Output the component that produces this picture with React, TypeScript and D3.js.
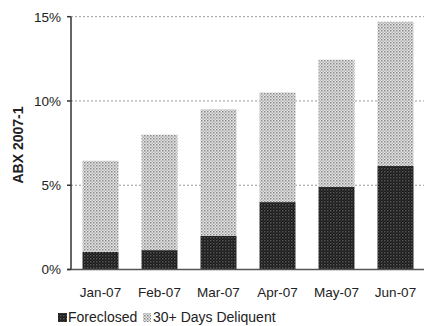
import React from "react";
import * as d3 from "d3";

const months = ["Jan-07", "Feb-07", "Mar-07", "Apr-07", "May-07", "Jun-07"];
const foreclosed = [1.05, 1.15, 2.0, 4.0, 4.9, 6.15];
const delinquent = [5.4, 6.85, 7.5, 6.5, 7.55, 8.55];
const yTicks = [0, 5, 10, 15];
const seriesNames = ["Foreclosed", "30+ Days Deliquent"];

const W = 424;
const H = 326;
const left = 71;
const right = 425;
const top = 16.7;
const bottom = 269.5;

export default function App() {
  const x = d3.scaleBand<string>().domain(months).range([left, right]).paddingInner(0.39).paddingOuter(0.195);
  const y = d3.scaleLinear().domain([0, 15]).range([bottom, top]);

  const rows = months.map((m, i) => ({ month: m, foreclosed: foreclosed[i], delinquent: delinquent[i] }));
  const stack = d3.stack<any>().keys(["foreclosed", "delinquent"])(rows);
  const fills = ["url(#darkPat)", "url(#lightPat)"];
  const font = "Arial, 'Liberation Sans', sans-serif";

  return (
    <svg width={W} height={H} style={{ position: "absolute", left: 0, top: 0, background: "#fff" }}>
      <defs>
        <pattern id="lightPat" width="3" height="3" patternUnits="userSpaceOnUse">
          <rect width="3" height="3" fill="#e6e6e6" />
          <rect x="0" y="0" width="1.5" height="1.5" fill="#888" />
          <rect x="1.5" y="1.5" width="1.5" height="1.5" fill="#b4b4b4" />
        </pattern>
        <pattern id="darkPat" width="3" height="3" patternUnits="userSpaceOnUse">
          <rect width="3" height="3" fill="#1a1a1a" />
          <rect x="0" y="0" width="1.5" height="1.5" fill="#555" />
          <rect x="1.5" y="1.5" width="1.5" height="1.5" fill="#2e2e2e" />
        </pattern>
      </defs>

      {yTicks.filter((t) => t > 0).map((t) => (
        <line key={t} x1={left} x2={W} y1={y(t)} y2={y(t)} stroke="#999" strokeWidth={1} strokeDasharray="2,2" />
      ))}

      {stack.map((layer, li) =>
        layer.map((d, i) => (
          <rect
            key={`${li}-${i}`}
            x={x(months[i])}
            width={x.bandwidth()}
            y={y(d[1])}
            height={y(d[0]) - y(d[1])}
            fill={fills[li]}
          />
        ))
      )}

      <line x1={left} x2={left} y1={top} y2={bottom} stroke="#333" strokeWidth={1.5} />
      <line x1={left - 4} x2={W} y1={bottom} y2={bottom} stroke="#555" strokeWidth={1.5} />
      {yTicks.map((t) => (
        <g key={t}>
          <line x1={left - 4} x2={left} y1={y(t)} y2={y(t)} stroke="#333" strokeWidth={1.5} />
          <text x={61} y={y(t)} dy="0.36em" textAnchor="end" fontFamily={font} fontSize={13.5} fill="#222">
            {t}%
          </text>
        </g>
      ))}

      {months.map((m) => (
        <text key={m} x={(x(m) as number) + x.bandwidth() / 2} y={297} textAnchor="middle" fontFamily={font} fontSize={13.5} fill="#222">
          {m}
        </text>
      ))}

      <text
        transform="translate(23,145) rotate(-90)"
        textAnchor="middle"
        fontFamily={font}
        fontSize={14}
        fontWeight="bold"
        fill="#222"
      >
        ABX 2007-1
      </text>

      <g fontFamily={font} fontSize={14} fill="#222">
        <rect x={58} y={313} width={9} height={9} fill={fills[0]} />
        <text x={68} y={322}>{seriesNames[0]}</text>
        <rect x={143} y={313} width={8} height={9} fill={fills[1]} />
        <text x={153} y={322}>{seriesNames[1]}</text>
      </g>
    </svg>
  );
}
